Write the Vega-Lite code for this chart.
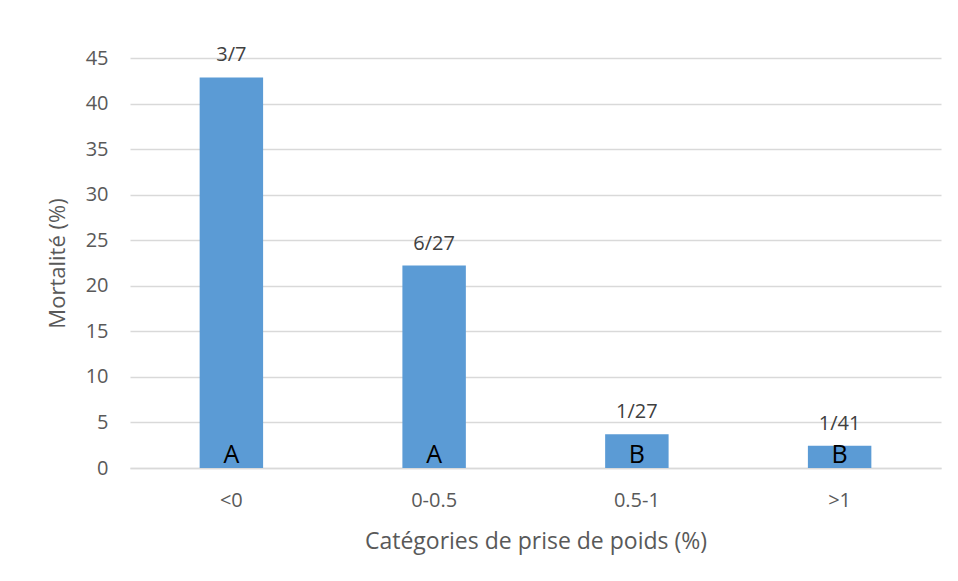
{
  "$schema": "https://vega.github.io/schema/vega-lite/v6.json",
  "autosize": "none",
  "width": 811,
  "height": 410,
  "padding": {"left": 130, "top": 58, "right": 17, "bottom": 113},
  "background": "white",
  "config": {
    "view": {"stroke": null},
    "font": "Open Sans"
  },
  "data": {
    "values": [
      {"cat": "<0", "value": 42.86, "label": "3/7", "letter": "A"},
      {"cat": "0-0.5", "value": 22.22, "label": "6/27", "letter": "A"},
      {"cat": "0.5-1", "value": 3.70, "label": "1/27", "letter": "B"},
      {"cat": ">1", "value": 2.44, "label": "1/41", "letter": "B"}
    ]
  },
  "encoding": {
    "x": {
      "field": "cat",
      "type": "nominal",
      "sort": null,
      "scale": {"paddingInner": 0.687, "paddingOuter": 0.3435},
      "axis": {
        "title": "Catégories de prise de poids (%)",
        "titleFont": "Open Sans",
        "titleFontSize": 23,
        "titleFontWeight": "normal",
        "titleColor": "#595959",
        "titlePadding": 20,
        "labelAngle": 0,
        "labelFontSize": 20,
        "labelColor": "#595959",
        "labelPadding": 22,
        "ticks": false,
        "domainColor": "#d9d9d9",
        "domainWidth": 1.5
      }
    },
    "y": {
      "field": "value",
      "type": "quantitative",
      "scale": {"domain": [0, 45]},
      "axis": {
        "title": "Mortalité (%)",
        "titleFont": "Open Sans",
        "titleFontSize": 22,
        "titleFontWeight": "normal",
        "titleColor": "#595959",
        "titlePadding": 16,
        "values": [0, 5, 10, 15, 20, 25, 30, 35, 40, 45],
        "labelFontSize": 20,
        "labelColor": "#595959",
        "labelPadding": 22,
        "ticks": false,
        "domain": false,
        "gridColor": "#d9d9d9",
        "gridWidth": 1.5
      }
    }
  },
  "layer": [
    {"mark": {"type": "bar", "color": "#5b9bd5"}},
    {
      "mark": {"type": "text", "baseline": "alphabetic", "dy": -16, "fontSize": 20, "color": "#404040"},
      "encoding": {"text": {"field": "label"}}
    },
    {
      "mark": {"type": "text", "baseline": "alphabetic", "dy": -5, "fontSize": 25, "color": "black"},
      "encoding": {"y": {"datum": 0}, "text": {"field": "letter"}}
    }
  ]
}
